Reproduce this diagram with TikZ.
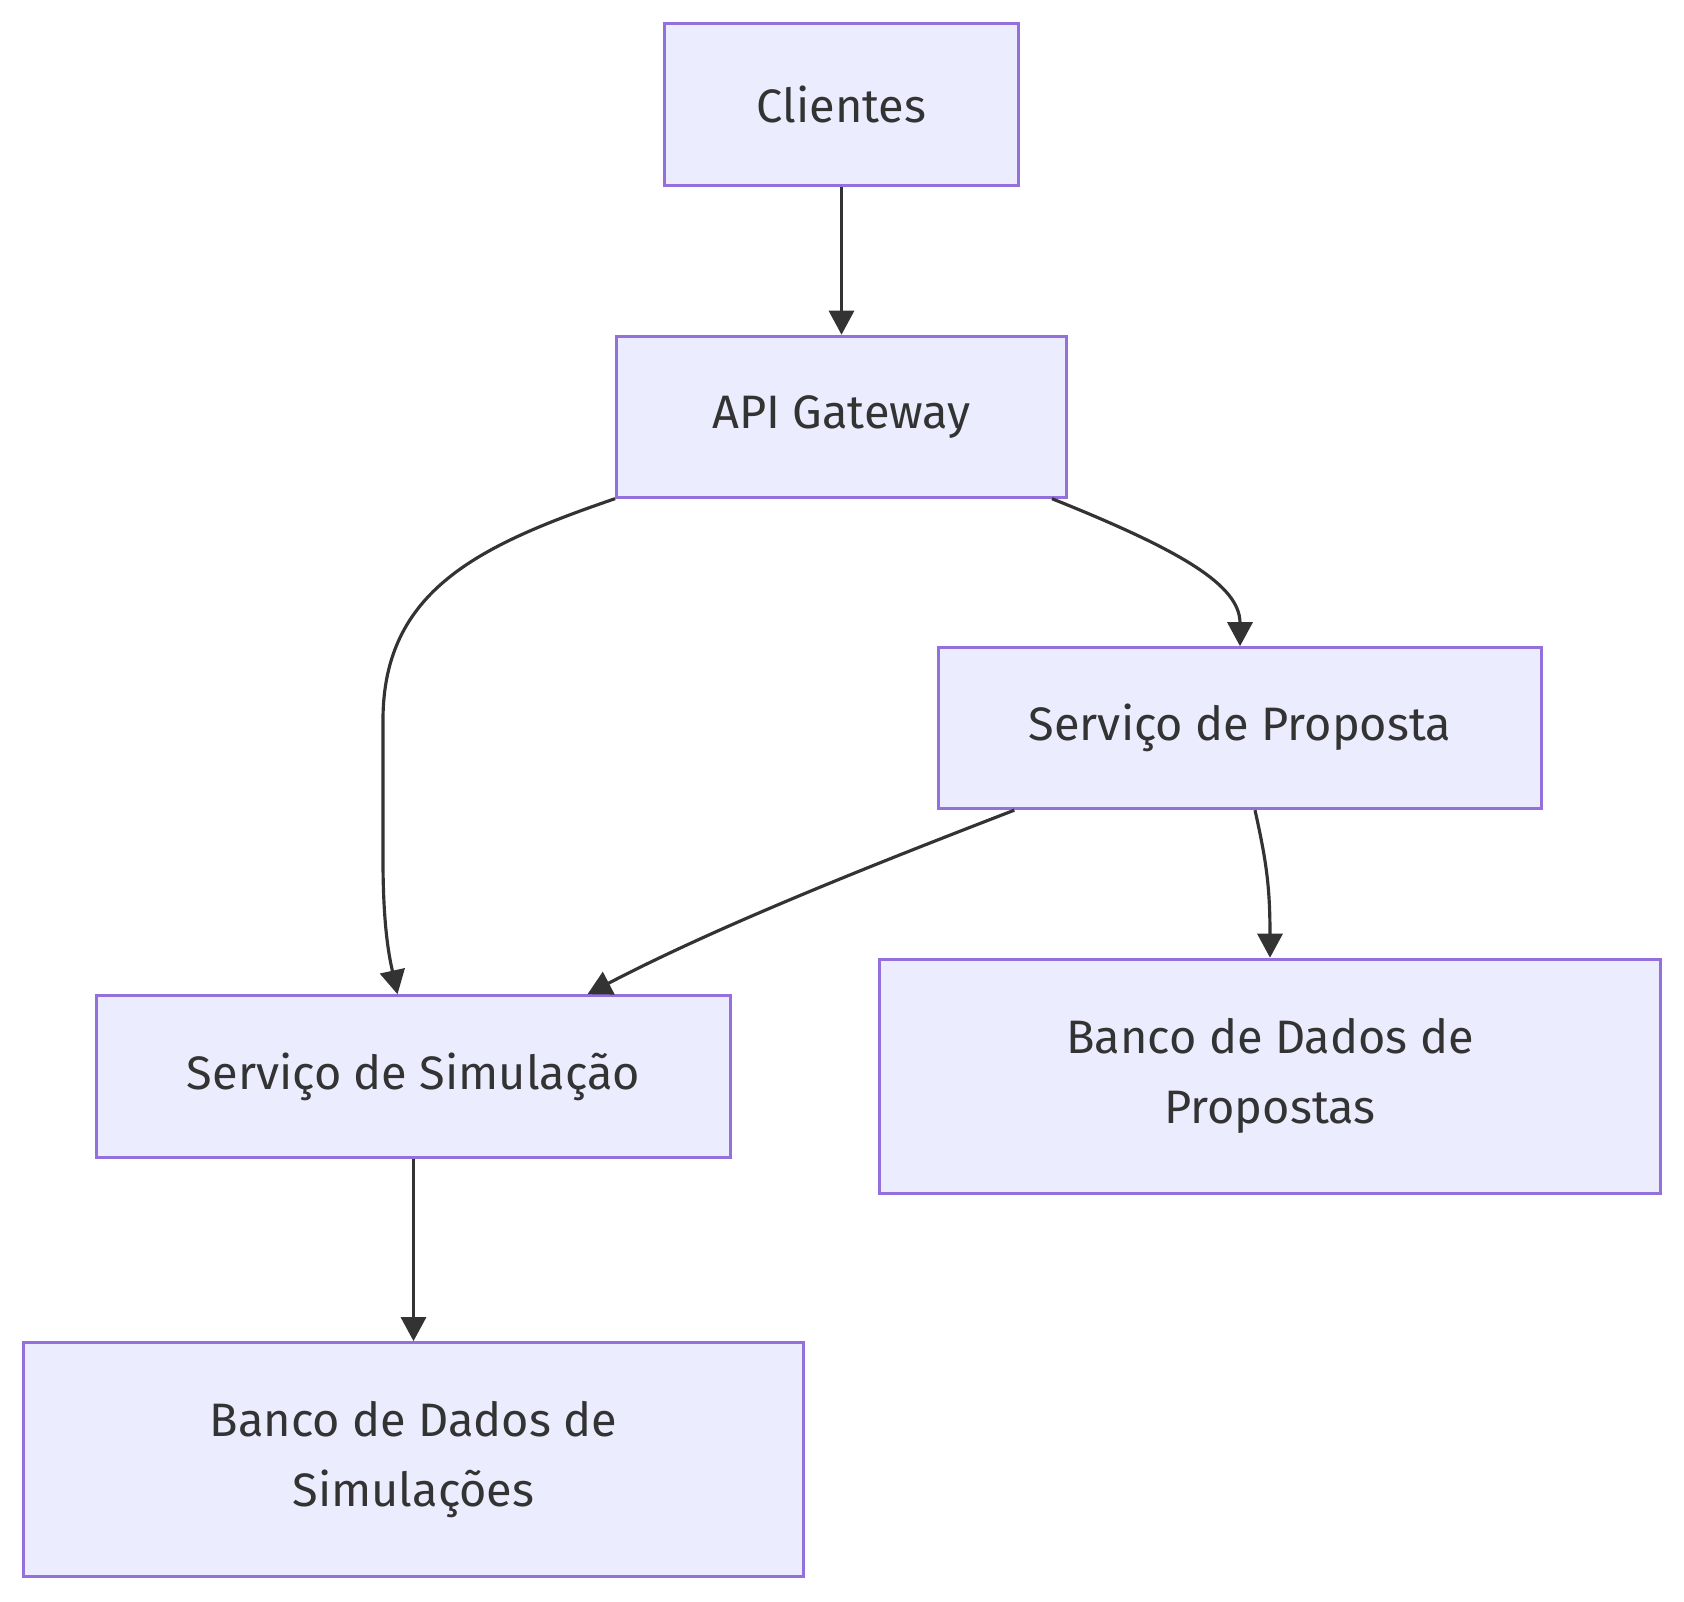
\documentclass[tikz,border=0pt]{standalone}
\usepackage{fontspec}
\setmainfont{Fira Sans}
\usetikzlibrary{arrows.meta,calc}
\definecolor{boxfill}{HTML}{ECECFF}
\definecolor{boxline}{HTML}{9370DB}
\definecolor{ink}{HTML}{333333}
\begin{document}
\begin{tikzpicture}[x=0.02cm, y=-0.02cm,
  every node/.style={font=\fontsize{26.7}{40}\selectfont, text=ink},
  svc/.style={draw=boxline,fill=boxfill,line width=1.7pt,inner sep=0pt,align=center},
  link/.style={draw=ink,line width=1.8pt,-{Triangle[length=0.48cm,width=0.5cm]}}]
\useasboundingbox (0,0) rectangle (1684,1602);
\node[svc,minimum width=7.07cm,minimum height=3.24cm] (cli) at (841.5,104.7) {Clientes};
\node[svc,minimum width=9.0cm,minimum height=3.22cm] (gw) at (841.5,416.7) {API Gateway};
\node[svc,minimum width=12.05cm,minimum height=3.22cm] (prop) at (1240,728.2) {Serviço de Proposta};
\node[svc,minimum width=12.67cm,minimum height=3.24cm] (sim) at (413.5,1076.7) {Serviço de Simulação};
\node[svc,minimum width=15.62cm,minimum height=4.68cm] (dbp) at (1270,1076.2) {Banco de Dados de\\Propostas};
\node[svc,minimum width=15.6cm,minimum height=4.68cm] (dbs) at (413.5,1459.6) {Banco de Dados de\\Simulações};
% ligacoes
\draw[link] (cli) -- (gw);
\draw[link] (gw.south west) .. controls (480,545) and (383,590) .. (383,720)
  -- (383,860) .. controls (383,930) and (390,960) .. ($(sim.north)+(-16,0)$);
\draw[link] ($(gw.south east)+(-16,0)$) .. controls (1180,550) and (1240,585) .. (prop.north);
\draw[link] ($(prop.south west)+(77,0)$) .. controls (880,862) and (720,925) .. ($(sim.north)+(174,0)$);
\draw[link] ($(prop.south)+(15,0)$) .. controls (1266,860) and (1270,885) .. (dbp.north);
\draw[link] (sim) -- (dbs);
\end{tikzpicture}
\end{document}
